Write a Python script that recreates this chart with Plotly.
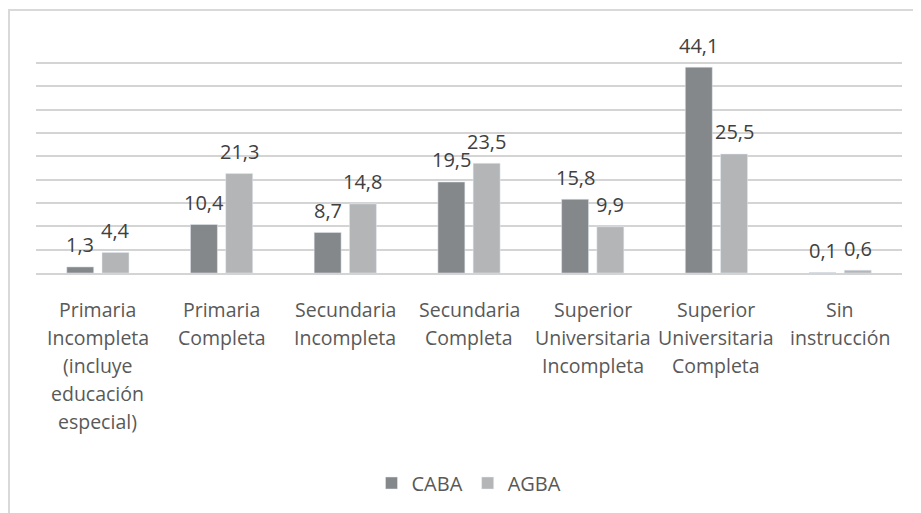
import plotly.graph_objects as go

CATEGORIES = [
    "Primaria<br>Incompleta<br>(incluye<br>educación<br>especial)",
    "Primaria<br>Completa",
    "Secundaria<br>Incompleta",
    "Secundaria<br>Completa",
    "Superior<br>Universitaria<br>Incompleta",
    "Superior<br>Universitaria<br>Completa",
    "Sin<br>instrucción",
]
CABA = [1.3, 10.4, 8.7, 19.5, 15.8, 44.1, 0.1]
AGBA = [4.4, 21.3, 14.8, 23.5, 9.9, 25.5, 0.6]

DARK = "#85888b"
LIGHT = "#b3b5b6"
GRID = "#d4d4d4"
TEXT = "#595959"
LABEL = "#404040"
FONT = "Open Sans"

# the page puts the figure 8px in from the top-left corner
OFF = 8
W, H = 921, 513
M_L, M_R, M_T, M_B = 36 - OFF, 27, 31, 513 - (273 - OFF)
BARGAP = 0.43
PX_PER_UNIT = 4.668
LINE_STEP = 28
plot_w = W - M_L - M_R
plot_h = H - M_T - M_B
y_max = plot_h / PX_PER_UNIT
slot = (1 - BARGAP) * plot_w / len(CATEGORIES) / 2


def fmt(v):
    return f"{v:.1f}".replace(".", ",")


fig = go.Figure()
fig.add_trace(go.Bar(x=CATEGORIES, y=CABA, name="CABA", marker_color=DARK))
fig.add_trace(go.Bar(x=CATEGORIES, y=AGBA, name="AGBA", marker_color=LIGHT))

# value labels above bars
for series, sign in ((CABA, -1), (AGBA, 1)):
    for cat, v in zip(CATEGORIES, series):
        fig.add_annotation(
            x=cat, y=v, text=fmt(v), showarrow=False,
            xshift=sign * slot / 2, yshift=22, yanchor="middle",
            font=dict(family=FONT, size=20, color=LABEL),
        )

# category labels, one line at a time for Excel-like line spacing
for cat in CATEGORIES:
    for i, line in enumerate(cat.split("<br>")):
        fig.add_annotation(
            x=cat, xref="x", y=0, yref="paper", text=line, showarrow=False,
            yanchor="middle", yshift=-(36 + LINE_STEP * i),
            font=dict(family=FONT, size=19.5, color=TEXT),
        )


# chart area border (page pixel coords)
def px_x(p):
    return (p - OFF - M_L) / plot_w


def px_y(p):
    return (H - M_B - (p - OFF)) / plot_h


fig.add_shape(
    type="rect", xref="paper", yref="paper",
    x0=px_x(9), x1=px_x(940), y0=px_y(540), y1=px_y(10),
    line=dict(color="#d9d9d9", width=2), fillcolor="rgba(0,0,0,0)", layer="below",
)

fig.update_layout(
    width=W, height=H, autosize=False,
    margin=dict(l=M_L, r=M_R, t=M_T, b=M_B, autoexpand=False),
    paper_bgcolor="white", plot_bgcolor="white",
    barmode="group", bargap=BARGAP, bargroupgap=0.235,
    font=dict(family=FONT, size=19, color=TEXT),
    showlegend=True,
    legend=dict(
        orientation="h", x=0.5, xanchor="center",
        yref="container", y=1 - (483 - OFF) / H, yanchor="middle",
        font=dict(family=FONT, size=20, color=TEXT), itemwidth=30,
    ),
)
fig.update_xaxes(
    showline=True, linecolor=GRID, linewidth=2, ticks="", automargin=False,
    showticklabels=False,
)
fig.update_yaxes(
    range=[0, y_max], tick0=0, dtick=5, showticklabels=False, gridcolor=GRID, gridwidth=2,
    zeroline=False, showline=False, automargin=False,
)

fig.write_html("out.html")
